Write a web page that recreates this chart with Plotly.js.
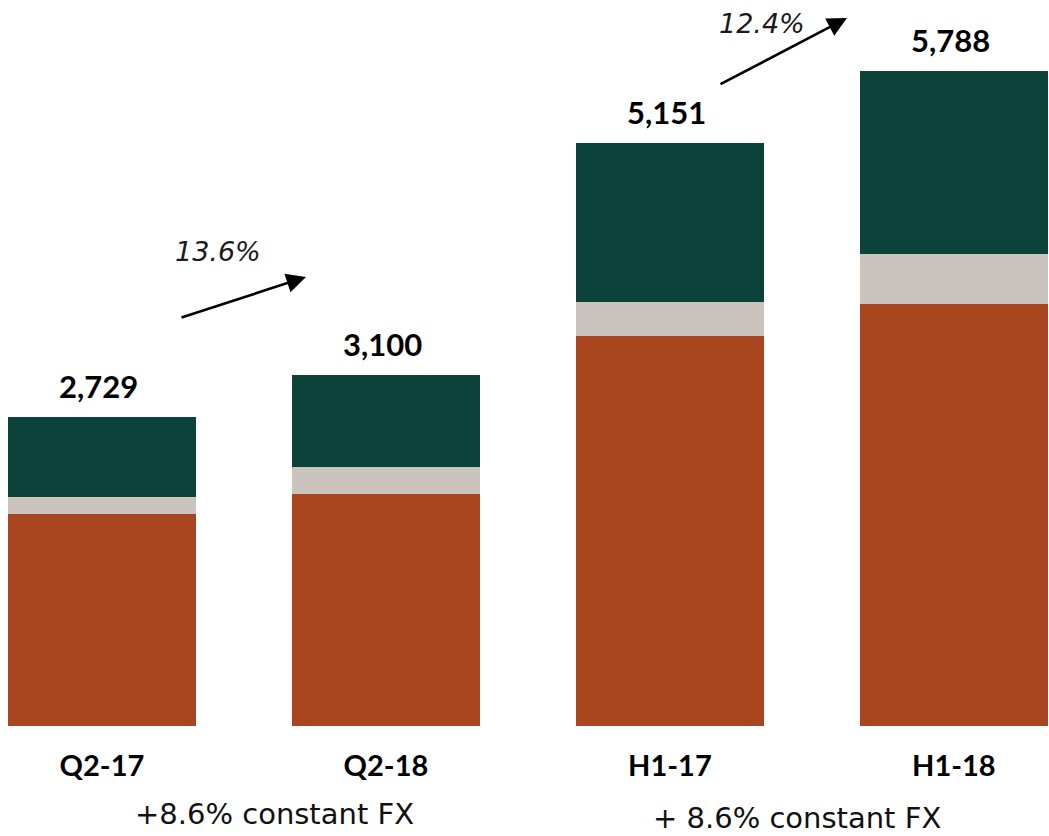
<!DOCTYPE html>
<html>
<head>
<meta charset="utf-8">
<script src="https://cdn.plot.ly/plotly-3.0.1.min.js"></script>
<style>
  html, body { margin: 0; padding: 0; background: #ffffff; }
  #chart { width: 1049px; height: 836px; }
</style>
</head>
<body>
<div id="chart"></div>
<script>
// Revenue by period, stacked in three components
const periods = ['Q2-17', 'Q2-18', 'H1-17', 'H1-18'];
const baseSegment = [1871, 2054, 3450, 3733];
const midSegment = [154, 240, 301, 437];
const topSegment = [704, 806, 1400, 1618];
const growthLabels = ['13.6%', '12.4%'];
const fxNotes = ['+8.6% constant FX', '+ 8.6% constant FX'];

const totals = periods.map((_, i) => baseSegment[i] + midSegment[i] + topSegment[i]);

const BOLD_FONT = 'Lato, "Open Sans", sans-serif';
const LIGHT_FONT = '"DejaVu Sans", Lato, sans-serif';
const colors = { base: '#A9461F', mid: '#CBC3BE', top: '#0B4239' };

function barTrace(values, color) {
  return {
    type: 'bar',
    x: periods,
    y: values,
    marker: { color: color, line: { width: 0 } },
    hoverinfo: 'x+y',
    showlegend: false
  };
}

const data = [
  barTrace(baseSegment, colors.base),
  barTrace(midSegment, colors.mid),
  barTrace(topSegment, colors.top)
];

// Paper-coordinate helpers for a plot area spanning the full width
const W = 1049, PLOT_H = 726;
const px = v => v / W;
const py = v => (PLOT_H - v) / PLOT_H;

const annotations = [];

// Totals above each stack
periods.forEach((p, i) => {
  annotations.push({
    x: p, y: totals[i], xref: 'x', yref: 'y',
    text: '<b>' + totals[i].toLocaleString('en-US') + '</b>',
    showarrow: false, yanchor: 'bottom', yshift: 10, xshift: -3,
    font: { family: BOLD_FONT, size: 31, color: '#000000' }
  });
});

// Growth arrows
const arrows = [
  { tip: [306, 277], tail: [180, 318], label: growthLabels[0], lx: 218, ly: 251 },
  { tip: [847, 18], tail: [719, 85], label: growthLabels[1], lx: 762, ly: 23 }
];
arrows.forEach(a => {
  annotations.push({
    x: px(a.tip[0]), y: py(a.tip[1]), xref: 'paper', yref: 'paper',
    ax: a.tail[0] - a.tip[0], ay: a.tail[1] - a.tip[1],
    axref: 'pixel', ayref: 'pixel',
    text: '', showarrow: true, arrowhead: 2, arrowsize: 1.5,
    arrowwidth: 2.6, arrowcolor: '#000000', standoff: 0, startstandoff: 0
  });
  annotations.push({
    x: px(a.lx), y: py(a.ly), xref: 'paper', yref: 'paper',
    text: '<i>' + a.label + '</i>', showarrow: false,
    xanchor: 'center', yanchor: 'middle',
    font: { family: LIGHT_FONT, size: 27, color: '#1a1a1a', style: 'italic' }
  });
});

// Constant-FX notes under each pair
[[274, 814], [797, 818]].forEach((pos, i) => {
  annotations.push({
    x: px(pos[0]), y: py(pos[1]), xref: 'paper', yref: 'paper',
    text: fxNotes[i], showarrow: false,
    xanchor: 'center', yanchor: 'middle',
    font: { family: LIGHT_FONT, size: 29, color: '#111111' }
  });
});

const layout = {
  width: 1049,
  height: 836,
  margin: { l: 0, r: 0, t: 0, b: 110, pad: 0 },
  paper_bgcolor: '#ffffff',
  plot_bgcolor: '#ffffff',
  barmode: 'stack',
  bargap: 0.338,
  showlegend: false,
  font: { family: BOLD_FONT, color: '#000000' },
  xaxis: {
    type: 'category',
    range: [-0.359, 3.335],
    showgrid: false, zeroline: false, showline: false,
    ticks: '',
    ticklabelstandoff: 20,
    tickfont: { family: BOLD_FONT, size: 29, color: '#000000', weight: 'bold' }
  },
  yaxis: {
    range: [0, 6418],
    visible: false,
    showgrid: false, zeroline: false
  },
  annotations: annotations
};

Plotly.newPlot('chart', data, layout, { displayModeBar: false, staticPlot: true });
</script>
</body>
</html>
